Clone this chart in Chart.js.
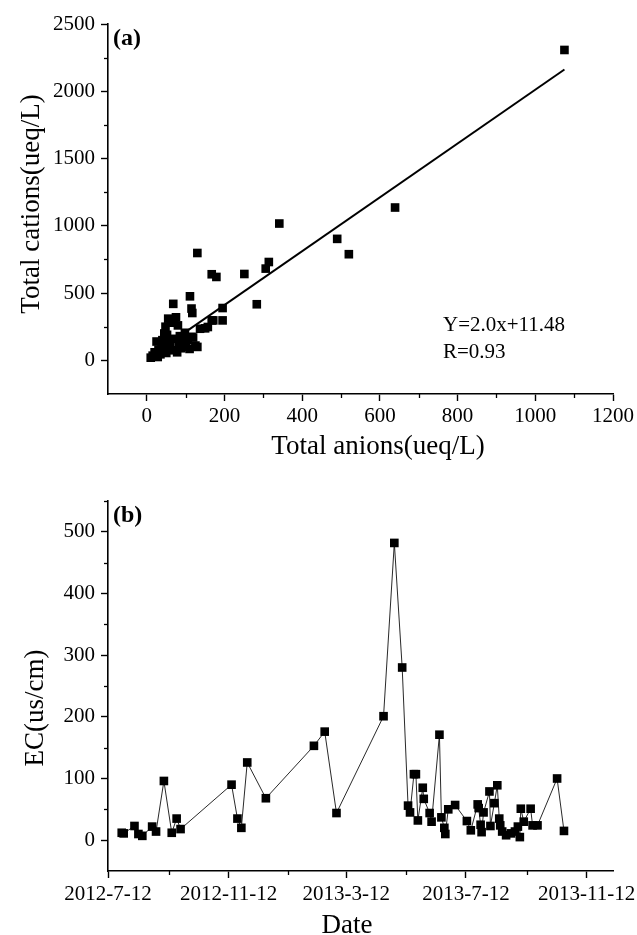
<!DOCTYPE html>
<html>
<head>
<meta charset="utf-8">
<script src="https://cdn.jsdelivr.net/npm/chart.js@4.4.0/dist/chart.umd.min.js"></script>
<style>
html, body { margin: 0; padding: 0; background: #fff; }
#wrap { position: relative; width: 637px; height: 935px; }
canvas { position: absolute; left: 0; }
#chartA { top: 0; }
#chartB { top: 465px; }
</style>
</head>
<body>
<div id="wrap">
  <canvas id="chartA" width="637" height="465"></canvas>
  <canvas id="chartB" width="637" height="470"></canvas>
</div>
<script>
// ---- (a) total anions vs total cations (ueq/L) ----
const anions  = [10, 15, 20, 25, 28, 30, 35, 38, 40, 42, 45, 48, 50, 52, 55, 58, 60, 62, 65, 68,
                 70, 72, 75, 78, 80, 82, 85, 88, 90, 95, 98, 100, 105, 110, 115, 119, 125, 130, 137, 150,
                 157, 167, 171, 195, 195, 111, 115, 117, 130, 167, 179, 251, 306, 314, 341, 283, 490, 520, 639, 1075];
const cations = [20, 35, 60, 140, 25, 80, 45, 110, 150, 70, 200, 250, 55, 190, 310, 95, 130, 280, 75, 420,
                 300, 160, 320, 60, 260, 110, 180, 90, 140, 120, 205, 100, 150, 85, 175, 170, 110, 100, 235, 238,
                 248, 297, 297, 297, 389, 476, 385, 352, 798, 640, 620, 642, 682, 731, 1017, 417, 903, 789, 1136, 2307];
const fitSlope = 2.0;
const fitIntercept = 11.48;
const fitXRange = [8, 1075];
const fitText = ['Y=2.0x+11.48', 'R=0.93'];
const xTicksA = [0, 200, 400, 600, 800, 1000, 1200];
const xMinorA = [100, 300, 500, 700, 900, 1100];
const yTicksA = [0, 500, 1000, 1500, 2000, 2500];
const yMinorA = [250, 750, 1250, 1750, 2250];

// ---- (b) EC time series ----
const sampleDates = [
  '2012-07-26', '2012-07-28', '2012-08-08', '2012-08-12', '2012-08-16', '2012-08-26', '2012-08-30', '2012-09-07',
  '2012-09-15', '2012-09-20', '2012-09-24', '2012-11-15', '2012-11-21', '2012-11-25', '2012-12-01', '2012-12-20',
  '2013-02-07', '2013-02-18', '2013-03-02', '2013-04-19', '2013-04-30', '2013-05-08', '2013-05-14', '2013-05-16',
  '2013-05-20', '2013-05-22', '2013-05-24', '2013-05-29', '2013-05-30', '2013-06-05', '2013-06-07', '2013-06-15',
  '2013-06-17', '2013-06-20', '2013-06-21', '2013-06-24', '2013-07-01', '2013-07-13', '2013-07-17', '2013-07-24',
  '2013-07-25', '2013-07-27', '2013-07-28', '2013-07-30', '2013-08-05', '2013-08-06', '2013-08-10', '2013-08-13',
  '2013-08-15', '2013-08-16', '2013-08-18', '2013-08-22', '2013-08-27', '2013-08-31', '2013-09-03', '2013-09-05',
  '2013-09-06', '2013-09-09', '2013-09-16', '2013-09-18', '2013-09-23', '2013-10-13', '2013-10-20'];
const ecValues = [
  12, 11, 23, 10, 7, 22, 14, 96,
  12, 35, 18, 90, 35, 20, 126, 68,
  153, 176, 44, 201, 482, 280, 56, 45,
  107, 107, 32, 85, 67, 44, 30, 171,
  37, 20, 10, 50, 57, 31, 16, 58,
  52, 25, 13, 45, 79, 23, 60, 89,
  35, 24, 14, 8, 11, 14, 22, 5,
  51, 30, 51, 24, 24, 100, 15];
const dateTicks = ['2012-7-12', '2012-11-12', '2013-3-12', '2013-7-12', '2013-11-12'];
const dateMinor = ['2012-9-12', '2013-1-12', '2013-5-12', '2013-9-12'];
const dateEnd = '2013-12-9';
const yTicksB = [0, 100, 200, 300, 400, 500];
const yMinorB = [50, 150, 250, 350, 450, 550];

const SERIF = "'Liberation Serif', 'Times New Roman', serif";
Chart.defaults.font.family = SERIF;
Chart.defaults.color = '#000';

// dates -> days since first axis tick
function dayNum(s) {
  const p = s.split('-').map(Number);
  return Date.UTC(p[0], p[1] - 1, p[2]) / 86400000;
}
const day0 = dayNum(dateTicks[0]);
const toDay = s => dayNum(s) - day0;

function minorTicks(xs, ys) {
  return {
    id: 'minorTicks',
    afterDraw(chart) {
      const ctx = chart.ctx, sx = chart.scales.x, sy = chart.scales.y;
      ctx.save();
      ctx.strokeStyle = '#000';
      ctx.lineWidth = 1.3;
      xs.forEach(v => {
        const p = Math.round(sx.getPixelForValue(v)) + 0.5;
        ctx.beginPath(); ctx.moveTo(p, sx.top); ctx.lineTo(p, sx.top + 4); ctx.stroke();
      });
      ys.forEach(v => {
        const p = Math.round(sy.getPixelForValue(v)) + 0.5;
        ctx.beginPath(); ctx.moveTo(sy.right, p); ctx.lineTo(sy.right - 4, p); ctx.stroke();
      });
      ctx.restore();
    }
  };
}

function texts(items) {
  return {
    id: 'texts',
    afterDraw(chart) {
      const ctx = chart.ctx, a = chart.chartArea;
      items.forEach(t => {
        ctx.save();
        ctx.font = t.font;
        ctx.fillStyle = '#000';
        ctx.textAlign = t.align || 'center';
        ctx.textBaseline = 'middle';
        ctx.translate(t.x(a), t.y(a));
        if (t.rot) ctx.rotate(t.rot);
        ctx.fillText(t.text, 0, 0);
        ctx.restore();
      });
    }
  };
}

function axis(min, max, ticks, fmt, fit, pad) {
  return {
    type: 'linear', min: min, max: max,
    afterBuildTicks(s) { s.ticks = ticks.map(v => ({ value: v })); },
    afterFit(s) { fit(s); s.paddingLeft = 0; s.paddingRight = 0; s.paddingTop = 0; s.paddingBottom = 0; },
    border: { display: true, color: '#000', width: 1.6 },
    grid: { display: true, drawOnChartArea: false, drawTicks: true, tickLength: 7, tickColor: '#000', tickWidth: 1.4 },
    ticks: { color: '#000', font: { family: SERIF, size: 21 }, padding: pad, maxRotation: 0, autoSkip: false, callback: fmt }
  };
}

// ---- chart (a) ----
const pointsA = anions.map((x, i) => ({ x: x, y: cations[i] }));
const fitLine = fitXRange.map(x => ({ x: x, y: fitSlope * x + fitIntercept }));

new Chart(document.getElementById('chartA'), {
  type: 'scatter',
  data: {
    datasets: [
      { data: pointsA, pointStyle: 'rect', pointRadius: 6.1, backgroundColor: '#000', borderWidth: 0, order: 1 },
      { data: fitLine, showLine: true, borderColor: '#000', borderWidth: 2, pointRadius: 0, order: 2 }
    ]
  },
  options: {
    responsive: false, animation: false, events: [], devicePixelRatio: 1,
    layout: { padding: { left: 0, right: 24, top: 24, bottom: 0 } },
    plugins: { legend: { display: false }, tooltip: { enabled: false } },
    scales: {
      x: axis(-100, 1200, xTicksA, v => String(v), s => { s.height = 71; }, 3),
      y: axis(-250, 2500, yTicksA, v => String(v), s => { s.width = 108; }, 6)
    }
  },
  plugins: [
    minorTicks(xMinorA, yMinorA),
    texts([
      { text: 'Total cations(ueq/L)', font: '27px ' + SERIF, x: a => 32, y: a => a.top + 180, rot: -Math.PI / 2 },
      { text: 'Total anions(ueq/L)', font: '27px ' + SERIF, x: a => a.left + 270, y: a => a.bottom + 53 },
      { text: '(a)', font: 'bold 24px ' + SERIF, x: a => a.left + 5, y: a => a.top + 15, align: 'left' },
      { text: fitText[0], font: '21px ' + SERIF, x: a => a.left + 335, y: a => a.top + 301, align: 'left' },
      { text: fitText[1], font: '21px ' + SERIF, x: a => a.left + 335, y: a => a.top + 328, align: 'left' }
    ])
  ]
});

// ---- chart (b) ----
const pointsB = sampleDates.map((d, i) => ({ x: toDay(d), y: ecValues[i] }));

new Chart(document.getElementById('chartB'), {
  type: 'line',
  data: {
    datasets: [{
      data: pointsB, borderColor: '#111', borderWidth: 0.9, tension: 0,
      pointStyle: 'rect', pointRadius: 6.1, pointBackgroundColor: '#000', pointBorderWidth: 0
    }]
  },
  options: {
    responsive: false, animation: false, events: [], devicePixelRatio: 1,
    layout: { padding: { left: 0, right: 24, top: 36, bottom: 0 } },
    plugins: { legend: { display: false }, tooltip: { enabled: false } },
    scales: {
      x: axis(0, toDay(dateEnd), dateTicks.map(toDay), (v, i) => dateTicks[i], s => { s.height = 64; }, 4),
      y: axis(-50, 550, yTicksB, v => String(v), s => { s.width = 108; }, 6)
    }
  },
  plugins: [
    minorTicks(dateMinor.map(toDay), yMinorB),
    texts([
      { text: 'EC(us/cm)', font: '27px ' + SERIF, x: a => 36, y: a => a.top + 207, rot: -Math.PI / 2 },
      { text: 'Date', font: '27px ' + SERIF, x: a => a.left + 239, y: a => a.bottom + 55 },
      { text: '(b)', font: 'bold 24px ' + SERIF, x: a => a.left + 5, y: a => a.top + 15, align: 'left' }
    ])
  ]
});
</script>
</body>
</html>
